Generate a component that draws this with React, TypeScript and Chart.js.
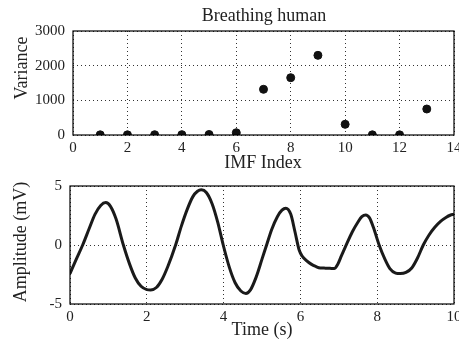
import React, { useEffect, useRef } from "react";
import { Chart, registerables } from "chart.js";

Chart.register(...registerables);

// ---- Data ----
const imfIndex = [1, 2, 3, 4, 5, 6, 7, 8, 9, 10, 11, 12, 13];
const imfVariance = [5, 5, 8, 10, 15, 65, 1318, 1653, 2298, 308, 5, 5, 750];
const varianceTicks = [0, 1000, 2000, 3000];
const imfTicks = [0, 2, 4, 6, 8, 10, 12, 14];

const timeS = [
  0, 0.15, 0.33, 0.5, 0.65, 0.8, 0.93, 1.05, 1.2, 1.39, 1.55, 1.7, 1.85, 2.0, 2.1, 2.25, 2.4, 2.55,
  2.75, 2.9, 3.05, 3.2, 3.32, 3.42, 3.55, 3.7, 3.85, 3.99, 4.15, 4.3, 4.45, 4.58, 4.7, 4.85, 5.0,
  5.12, 5.25, 5.4, 5.52, 5.62, 5.75, 5.86, 5.97, 6.05, 6.15, 6.28, 6.4, 6.52, 6.65, 6.77, 6.88,
  6.97, 7.07, 7.2, 7.35, 7.5, 7.6, 7.7, 7.8, 7.9, 8.05, 8.2, 8.33, 8.48, 8.6, 8.75, 8.9, 9.05, 9.2,
  9.35, 9.5, 9.65, 9.8, 9.9, 10.0,
];
const amplitudeMv = [
  -2.43, -1.3, 0, 1.4, 2.6, 3.35, 3.6, 3.3, 2.2, 0, -1.6, -2.8, -3.5, -3.78, -3.81, -3.6, -2.9, -1.8,
  0, 1.6, 3.0, 4.1, 4.55, 4.68, 4.45, 3.5, 1.9, 0, -1.9, -3.2, -3.9, -4.1, -3.8, -2.7, -1.2,
  0, 1.3, 2.4, 2.95, 3.12, 2.6, 1.1, -0.45, -0.95, -1.3, -1.62, -1.82, -1.95, -1.96, -1.98, -2.0,
  -1.65, -0.9, 0.05, 1.1, 1.95, 2.4, 2.55, 2.3, 1.5, 0, -1.2, -2.0, -2.38, -2.42, -2.32, -1.95, -1.1, 0,
  0.85, 1.5, 2.0, 2.35, 2.52, 2.6,
];
const timeTicks = [0, 2, 4, 6, 8, 10];
const ampTicks = [-5, 0, 5];

const FONT = "'Liberation Serif', 'Times New Roman', serif";
const TEXT = "#222";
const GRID = "#333";

type Label = { text: string; x: number; y: number; rot?: boolean; size: number };

const framePlugin = {
  id: "frameAndLabels",
  afterDraw(chart: any, _args: any, opts: any) {
    const { ctx, chartArea } = chart;
    ctx.save();
    ctx.strokeStyle = "#000";
    ctx.lineWidth = 1.2;
    ctx.setLineDash([]);
    ctx.strokeRect(chartArea.left, chartArea.top, chartArea.right - chartArea.left, chartArea.bottom - chartArea.top);
    const labels: Label[] = opts.labels || [];
    ctx.fillStyle = TEXT;
    ctx.textAlign = "center";
    ctx.textBaseline = "middle";
    for (const l of labels) {
      ctx.save();
      ctx.font = `${l.size}px ${FONT}`;
      ctx.translate(l.x, l.y);
      if (l.rot) ctx.rotate(-Math.PI / 2);
      ctx.fillText(l.text, 0, 0);
      ctx.restore();
    }
    ctx.restore();
  },
};

function fixedScale(size: number, isWidth: boolean) {
  return (scale: any) => {
    if (isWidth) scale.width = size;
    else scale.height = size;
    scale.paddingLeft = 0;
    scale.paddingRight = 0;
    scale.paddingTop = 0;
    scale.paddingBottom = 0;
  };
}

const plain = (v: any) => String(v);

function TopChart() {
  const ref = useRef<HTMLCanvasElement>(null);
  useEffect(() => {
    const chart = new Chart(ref.current!, {
      type: "scatter",
      data: {
        datasets: [
          {
            data: imfIndex.map((x, i) => ({ x, y: imfVariance[i] })),
            backgroundColor: "#111",
            borderColor: "#111",
            pointRadius: 4,
            pointHoverRadius: 4,
          },
        ],
      },
      options: {
        responsive: false,
        animation: false,
        events: [],
        layout: { padding: { left: 0, right: 5, top: 31, bottom: 0 } },
        plugins: {
          legend: { display: false },
          tooltip: { enabled: false },
          title: { display: false },
          frameAndLabels: {
            labels: [
              { text: "Breathing human", x: 264, y: 16, size: 18 },
              { text: "Variance", x: 22, y: 68, rot: true, size: 18 },
              { text: "IMF Index", x: 263, y: 163, size: 18 },
            ],
          },
        } as any,
        scales: {
          x: {
            type: "linear",
            min: 0,
            max: 14,
            afterFit: fixedScale(35, false),
            afterBuildTicks: (s: any) => {
              s.ticks = imfTicks.map((v) => ({ value: v }));
            },
            ticks: { color: TEXT, font: { family: FONT, size: 15 }, padding: 4, maxRotation: 0, callback: plain },
            grid: { color: GRID, lineWidth: 1, drawTicks: false },
            border: { display: false, dash: [1, 3] },
          },
          y: {
            type: "linear",
            min: 0,
            max: 3000,
            afterFit: fixedScale(73, true),
            afterBuildTicks: (s: any) => {
              s.ticks = varianceTicks.map((v) => ({ value: v }));
            },
            ticks: { color: TEXT, font: { family: FONT, size: 15 }, padding: 8, callback: plain },
            grid: { color: GRID, lineWidth: 1, drawTicks: false },
            border: { display: false, dash: [1, 3] },
          },
        },
      },
      plugins: [framePlugin],
    });
    return () => chart.destroy();
  }, []);
  return <canvas ref={ref} width={459} height={170} style={{ display: "block", width: 459, height: 170 }} />;
}

function BottomChart() {
  const ref = useRef<HTMLCanvasElement>(null);
  useEffect(() => {
    const chart = new Chart(ref.current!, {
      type: "line",
      data: {
        datasets: [
          {
            data: timeS.map((x, i) => ({ x, y: amplitudeMv[i] })),
            borderColor: "#1a1a1a",
            borderWidth: 3,
            pointRadius: 0,
            cubicInterpolationMode: "monotone",
            fill: false,
          },
        ],
      },
      options: {
        responsive: false,
        animation: false,
        events: [],
        layout: { padding: { left: 0, right: 5, top: 16, bottom: 0 } },
        plugins: {
          legend: { display: false },
          tooltip: { enabled: false },
          title: { display: false },
          frameAndLabels: {
            labels: [
              { text: "Amplitude (mV)", x: 21, y: 72, rot: true, size: 18 },
              { text: "Time (s)", x: 262, y: 160, size: 18 },
            ],
          },
        } as any,
        scales: {
          x: {
            type: "linear",
            min: 0,
            max: 10,
            afterFit: fixedScale(35, false),
            afterBuildTicks: (s: any) => {
              s.ticks = timeTicks.map((v) => ({ value: v }));
            },
            ticks: { color: TEXT, font: { family: FONT, size: 15 }, padding: 4, maxRotation: 0, callback: plain },
            grid: { color: GRID, lineWidth: 1, drawTicks: false },
            border: { display: false, dash: [1, 3] },
          },
          y: {
            type: "linear",
            min: -5,
            max: 5,
            afterFit: fixedScale(70, true),
            afterBuildTicks: (s: any) => {
              s.ticks = ampTicks.map((v) => ({ value: v }));
            },
            ticks: { color: TEXT, font: { family: FONT, size: 15 }, padding: 8, callback: plain },
            grid: { color: GRID, lineWidth: 1, drawTicks: false },
            border: { display: false, dash: [1, 3] },
          },
        },
      },
      plugins: [framePlugin],
    });
    return () => chart.destroy();
  }, []);
  return <canvas ref={ref} width={459} height={169} style={{ display: "block", width: 459, height: 169 }} />;
}

export default function App() {
  return (
    <div style={{ position: "fixed", left: 0, top: 0, width: 459, height: 339, background: "#fff" }}>
      <TopChart />
      <BottomChart />
    </div>
  );
}
